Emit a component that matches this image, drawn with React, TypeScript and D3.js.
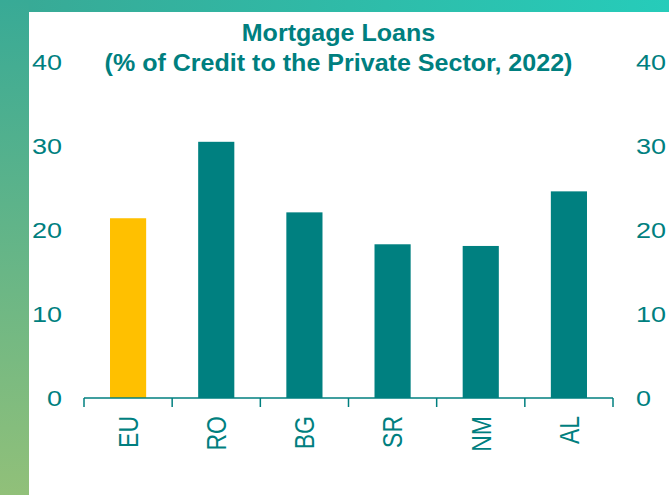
import React from "react";
import * as d3 from "d3";

const categories = ["EU", "RO", "BG", "SR", "NM", "AL"];
const values = [21.4, 30.5, 22.1, 18.3, 18.1, 24.6];
const barColors = ["#FFC000", "#008080", "#008080", "#008080", "#008080", "#008080"];
const yTicks = [0, 10, 20, 30, 40];
const titleLines = ["Mortgage Loans", "(% of Credit to the Private Sector, 2022)"];

const W = 669;
const H = 495;
const TEAL = "#007F7F";
const SX = 1.2;

export default function App() {
  const x = d3.scaleBand<string>().domain(categories).range([84, 613]).paddingInner(0.59).paddingOuter(0.295);
  const step = x.step();
  const y = d3.scaleLinear().domain([0, 40]).range([398, 62]);
  const boundaries = d3.range(categories.length + 1).map((i) => 84 + i * step);
  const font = "'Liberation Sans', Arial, sans-serif";

  return (
    <svg width={W} height={H} style={{ position: "absolute", left: 0, top: 0 }} fontFamily={font}>
      <defs>
        <linearGradient id="leftG" x1="0" y1="0" x2="0" y2="1">
          <stop offset="0" stopColor="#38AA96" />
          <stop offset="1" stopColor="#91C079" />
        </linearGradient>
        <linearGradient id="topG" x1="0" y1="0" x2="1" y2="0">
          <stop offset="0" stopColor="#38AA96" />
          <stop offset="1" stopColor="#26CCBA" />
        </linearGradient>
      </defs>
      <rect x={0} y={0} width={W} height={H} fill="#fff" />
      <rect x={0} y={0} width={29} height={H} fill="url(#leftG)" />
      <rect x={29} y={0} width={W - 29} height={12} fill="url(#topG)" />

      {titleLines.map((t, i) => (
        <text
          key={i}
          transform={`translate(338.5, ${33 + i * 30}) scale(1.09,1)`}
          textAnchor="middle"
          dominantBaseline="central"
          fontWeight="bold"
          fontSize={23}
          fill={TEAL}
        >
          {t}
        </text>
      ))}

      {categories.map((c, i) => (
        <rect
          key={c}
          x={x(c)}
          y={y(values[i])}
          width={x.bandwidth()}
          height={y(0) - y(values[i])}
          fill={barColors[i]}
        />
      ))}

      <line x1={84} x2={613} y1={y(0)} y2={y(0)} stroke={TEAL} strokeWidth={1.5} />
      {boundaries.map((bx, i) => (
        <line key={i} x1={bx} x2={bx} y1={y(0)} y2={y(0) + 9} stroke={TEAL} strokeWidth={1.5} />
      ))}

      {yTicks.map((t) => (
        <g key={t}>
          <text
            transform={`translate(62, ${y(t)}) scale(${SX},1)`}
            textAnchor="end"
            dominantBaseline="central"
            fontSize={22.5}
            fill={TEAL}
          >
            {t}
          </text>
          <text
            transform={`translate(636, ${y(t)}) scale(${SX},1)`}
            textAnchor="start"
            dominantBaseline="central"
            fontSize={22.5}
            fill={TEAL}
          >
            {t}
          </text>
        </g>
      ))}

      {categories.map((c) => (
        <text
          key={c}
          transform={`translate(${(x(c) as number) + x.bandwidth() / 2}, 416) scale(${SX},1) rotate(-90)`}
          textAnchor="end"
          dominantBaseline="central"
          fontSize={23}
          fill={TEAL}
        >
          {c}
        </text>
      ))}
    </svg>
  );
}
